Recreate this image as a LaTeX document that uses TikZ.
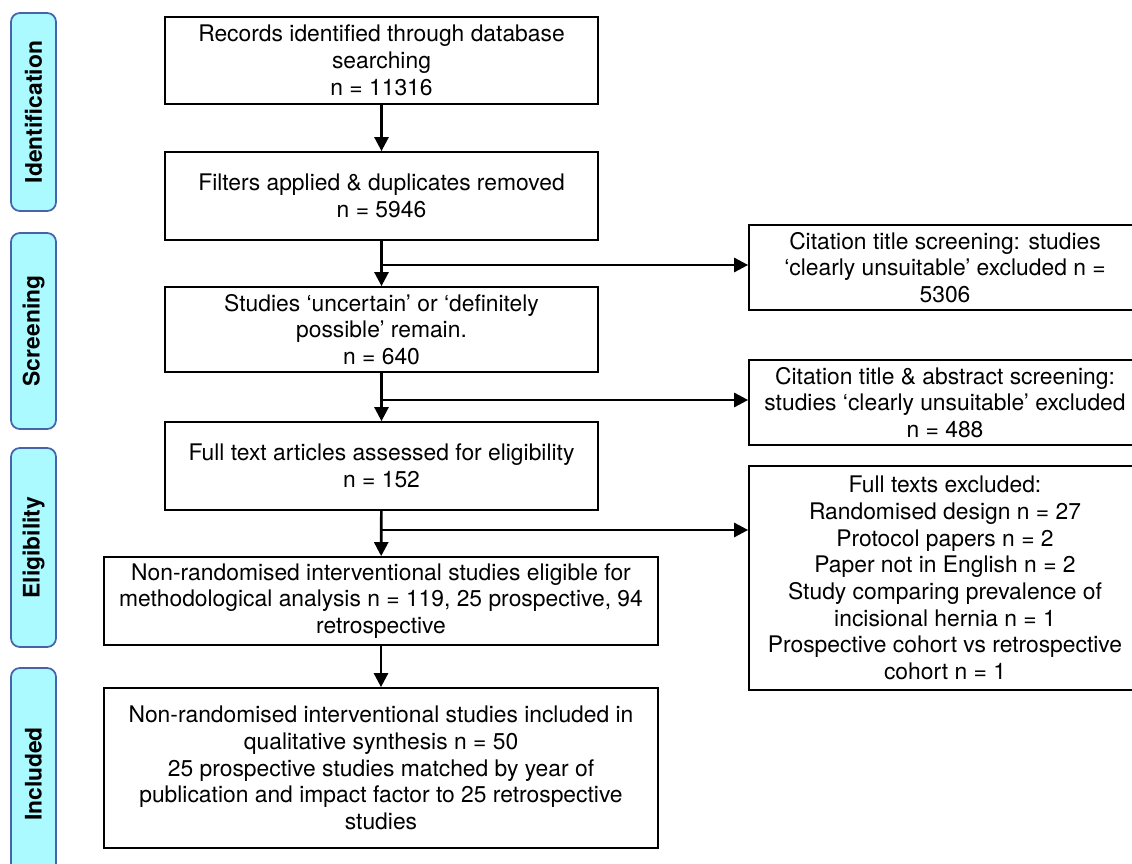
\documentclass[tikz,border=0pt]{standalone}
\usepackage{fontspec}
\setmainfont{TeX Gyre Heros}
\usetikzlibrary{arrows.meta}
\definecolor{stagefill}{RGB}{170,250,255}
\definecolor{stageline}{RGB}{70,100,170}
\tikzset{
  box/.style={draw, line width=1pt, align=center, inner sep=0pt,
    font=\fontsize{13}{15.2}\selectfont},
  stage/.style={draw=stageline, fill=stagefill, line width=1pt, rounded corners=5pt,
    rotate=90, inner sep=0pt, minimum height=0.9cm,
    font=\fontsize{13}{15.2}\selectfont\bfseries},
}
\begin{document}
\begin{tikzpicture}[x=0.02cm, y=-0.02cm]
      \clip (0,0) rectangle (1132,864);
      \node[stage, minimum width=3.96cm] (ident) at (33.5,112) {Identification};
      \node[stage, minimum width=3.92cm] (screen) at (33.5,331) {Screening};
      \node[stage, minimum width=3.98cm] (elig) at (33.5,547.5) {Eligibility};
      \node[stage, minimum width=4.24cm] (incl) at (33.5,774) {Included};
      \node[box, minimum width=8.66cm, minimum height=1.74cm] (rec) at (381.5,60.5)
        {Records identified through database\\searching\\n = 11316};
      \node[box, minimum width=8.66cm, minimum height=1.76cm] (filt) at (381.5,196)
        {Filters applied \& duplicates removed\\n = 5946};
      \node[box, minimum width=8.66cm, minimum height=1.70cm] (remain) at (381.5,329.5)
        {Studies ‘uncertain’ or ‘definitely\\possible’ remain.\\n = 640};
      \node[box, minimum width=8.66cm, minimum height=1.76cm] (full) at (381.5,466)
        {Full text articles assessed for eligibility\\n = 152};
      \node[box, minimum width=11.08cm, minimum height=1.76cm] (eligible) at (381,601)
        {Non-randomised interventional studies eligible for\\methodological analysis n = 119, 25 prospective, 94\\retrospective};
      \node[box, minimum width=11.08cm, minimum height=3.2cm] (synth) at (381,768)
        {Non-randomised interventional studies included in\\qualitative synthesis n = 50\\25 prospective studies matched by year of\\publication and impact factor to 25 retrospective\\studies};
      \node[box, minimum width=7.84cm, minimum height=1.70cm] (excl1) at (945,267.5)
        {Citation title screening: studies\\‘clearly unsuitable’ excluded n =\\5306};
      \node[box, minimum width=7.84cm, minimum height=1.70cm] (excl2) at (945,402.5)
        {Citation title \& abstract screening:\\studies ‘clearly unsuitable’ excluded\\n = 488};
      \node[box, minimum width=7.84cm, minimum height=4.48cm] (excl3) at (945,578)
        {Full texts excluded:\\Randomised design n = 27\\Protocol papers n = 2\\Paper not in English n = 2\\Study comparing prevalence of\\incisional hernia n = 1\\Prospective cohort vs retrospective\\cohort n = 1};
      \coordinate (j1) at (381.5,265);
      \coordinate (j2) at (381.5,400);
      \coordinate (j3) at (381.5,530);
      \begin{scope}[-{Triangle[length=8pt,width=8pt]}, line width=1.5pt]
        \draw (rec) to (filt);
        \draw (filt) to (remain);
        \draw (remain) to (full);
        \draw (full) to (eligible);
        \draw (eligible) to (synth);
        \draw (j1) to (j1 -| excl1.west);
        \draw (j2) to (j2 -| excl2.west);
        \draw (j3) to (j3 -| excl3.west);
      \end{scope}
    \end{tikzpicture}
\end{document}
